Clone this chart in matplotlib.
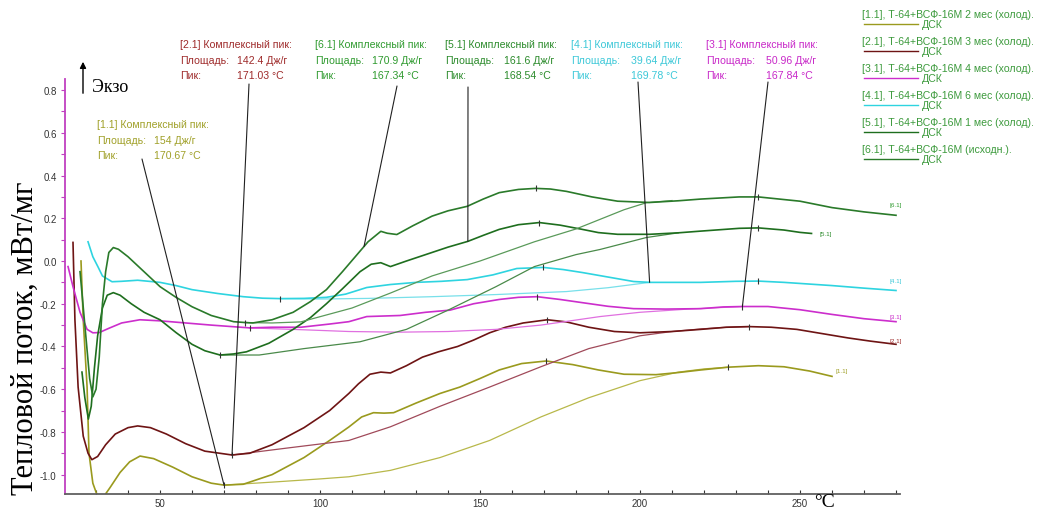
import matplotlib.pyplot as plt
from matplotlib.ticker import MultipleLocator

W, H = 1051, 510

# DSC curves: temperature (degC) and heat flow (mW/mg)
t11 = [25.3, 26.0, 27.2, 27.8, 29.0, 30.2, 30.8, 31.8, 33.0, 34.4, 37.5, 40.5, 43.75, 48, 54, 60, 66, 70, 76,
       85, 95, 103, 109, 113, 116.7, 120, 123, 130, 137.5, 143.7, 150, 156, 163, 170.67, 179, 187, 195, 205,
       212, 219, 227.5, 237, 245, 253, 260]
y11 = [0.0, -0.275, -0.59, -0.9, -1.04, -1.09, -1.13, -1.13, -1.09, -1.06, -0.99, -0.94, -0.913, -0.925, -0.965,
       -1.01, -1.04, -1.049, -1.045, -1.0, -0.92, -0.84, -0.777, -0.73, -0.71, -0.712, -0.71, -0.665, -0.62,
       -0.59, -0.55, -0.51, -0.48, -0.468, -0.485, -0.51, -0.53, -0.532, -0.522, -0.51, -0.497, -0.49, -0.495,
       -0.515, -0.54]
bt11 = [70, 85, 100, 109, 122, 137.5, 153, 169, 184, 200, 212, 220, 227.5]
by11 = [-1.049, -1.035, -1.02, -1.01, -0.98, -0.92, -0.84, -0.73, -0.64, -0.56, -0.52, -0.505, -0.497]

t21 = [22.8, 23.4, 24.4, 26, 27.5, 28.7, 30.5, 33, 36, 40, 43, 47, 52, 58, 64, 72.5, 78, 85, 95, 103, 109, 112,
       115.6, 119, 122, 127, 132, 137, 143, 148, 153, 158, 163.5, 171.03, 177, 184, 192, 200, 210, 219, 227,
       234, 241, 249, 257, 265, 272, 280]
y21 = [0.087, -0.275, -0.59, -0.82, -0.9, -0.93, -0.915, -0.86, -0.81, -0.78, -0.772, -0.78, -0.81, -0.855,
       -0.89, -0.908, -0.9, -0.86, -0.78, -0.7, -0.62, -0.575, -0.53, -0.52, -0.524, -0.49, -0.45, -0.425,
       -0.40, -0.37, -0.336, -0.31, -0.29, -0.275, -0.285, -0.31, -0.33, -0.336, -0.33, -0.32, -0.31, -0.307,
       -0.31, -0.32, -0.34, -0.36, -0.375, -0.39]
bt21 = [72.5, 90, 109, 122, 137.5, 153, 169, 184, 200, 210, 219, 227, 234]
by21 = [-0.908, -0.875, -0.84, -0.776, -0.68, -0.59, -0.495, -0.41, -0.35, -0.33, -0.318, -0.31, -0.307]

t31 = [21.25, 22.8, 25, 27.2, 29, 31, 34, 38, 43.7, 50, 58, 66, 78, 85, 94, 103, 109, 114.6, 125, 133, 140.6,
       148, 156, 162, 167.84, 175, 182, 190, 198, 208, 219, 226, 232, 240, 250, 260, 270, 280]
y31 = [-0.026, -0.12, -0.24, -0.32, -0.336, -0.335, -0.315, -0.29, -0.275, -0.28, -0.29, -0.3, -0.313, -0.31,
       -0.31, -0.295, -0.284, -0.26, -0.255, -0.24, -0.23, -0.2, -0.18, -0.17, -0.167, -0.18, -0.195, -0.212,
       -0.223, -0.225, -0.223, -0.215, -0.213, -0.213, -0.228, -0.25, -0.27, -0.284]
bt31 = [78, 95, 109, 125, 140, 155, 169, 187.5, 200, 215, 232]
by31 = [-0.313, -0.322, -0.33, -0.333, -0.33, -0.32, -0.30, -0.26, -0.24, -0.225, -0.213]

t41 = [27.5, 29, 30.7, 32, 35, 38, 43, 50, 55, 60, 68, 76, 82, 87.5, 95, 102, 108, 114.6, 122, 130, 138, 146,
       154, 161.5, 169.78, 176, 182, 190, 198, 203, 212, 219, 230, 237, 245, 253, 260, 270, 280]
y41 = [0.09, 0.02, -0.03, -0.07, -0.097, -0.095, -0.09, -0.1, -0.115, -0.134, -0.152, -0.167, -0.174, -0.176,
       -0.175, -0.17, -0.155, -0.124, -0.11, -0.10, -0.095, -0.087, -0.065, -0.035, -0.03, -0.04, -0.054,
       -0.075, -0.096, -0.10, -0.10, -0.10, -0.095, -0.094, -0.1, -0.108, -0.115, -0.127, -0.138]
bt41 = [87.5, 100, 115, 135, 155, 177, 190, 203]
by41 = [-0.176, -0.178, -0.175, -0.167, -0.157, -0.143, -0.125, -0.10]

t51 = [25.6, 26.5, 27.6, 28.5, 29.5, 30.5, 32, 33.5, 35.4, 37.5, 41, 45, 50, 55, 60, 64, 68.75, 73, 77, 84,
       91.6, 97, 102, 107, 112.5, 116, 119, 122, 127, 135, 140, 146.2, 151, 156, 162, 168.54, 175, 182, 187,
       193, 203, 212, 219, 231, 237, 245, 250, 253.6]
y51 = [-0.52, -0.64, -0.74, -0.68, -0.5, -0.35, -0.22, -0.16, -0.148, -0.16, -0.2, -0.24, -0.275, -0.335,
       -0.39, -0.42, -0.44, -0.435, -0.425, -0.385, -0.32, -0.265, -0.2, -0.13, -0.05, -0.015, -0.008, -0.026,
       0.0, 0.04, 0.065, 0.092, 0.12, 0.148, 0.17, 0.18, 0.168, 0.148, 0.133, 0.125, 0.125, 0.132, 0.14, 0.153,
       0.155, 0.145, 0.134, 0.129]
bt51 = [68.75, 81, 95, 112.5, 127, 140, 155, 167, 180, 187.5, 202, 212]
by51 = [-0.44, -0.44, -0.41, -0.378, -0.32, -0.23, -0.12, -0.026, 0.03, 0.054, 0.11, 0.132]

t61 = [25.0, 26.5, 28, 29, 30, 31, 32, 33, 34, 35.4, 37, 40, 45, 50, 55, 60, 66, 73, 76.6, 79, 85, 91.6, 97,
       102, 107, 113.75, 115, 119, 121, 124, 129, 135, 140, 146, 151, 156, 162, 167.34, 172, 177, 185, 193,
       203, 212, 219, 231, 237, 250, 260, 270, 280]
y61 = [-0.05, -0.3, -0.55, -0.636, -0.6, -0.45, -0.2, -0.05, 0.04, 0.063, 0.055, 0.02, -0.05, -0.12, -0.17,
       -0.214, -0.255, -0.284, -0.288, -0.29, -0.275, -0.24, -0.19, -0.134, -0.05, 0.068, 0.09, 0.139, 0.13,
       0.124, 0.165, 0.21, 0.235, 0.256, 0.29, 0.32, 0.335, 0.34, 0.337, 0.326, 0.3, 0.28, 0.274, 0.282, 0.29,
       0.30, 0.30, 0.28, 0.25, 0.23, 0.214]
bt61 = [76.6, 85, 94, 110, 122, 135, 150, 167, 180, 187.5, 195, 202, 210]
by61 = [-0.288, -0.29, -0.285, -0.22, -0.15, -0.07, 0.0, 0.09, 0.15, 0.195, 0.24, 0.273, 0.283]

# peak / integration limit markers
tick11 = ([70, 170.67, 227.5], [-1.049, -0.468, -0.497])
tick21 = ([72.5, 171.03, 234], [-0.908, -0.275, -0.307])
tick31 = ([78, 167.84, 232], [-0.313, -0.167, -0.213])
tick41 = ([87.5, 169.78, 237], [-0.176, -0.03, -0.094])
tick51 = ([68.75, 168.54, 237], [-0.44, 0.18, 0.155])
tick61 = ([76.6, 167.34, 237], [-0.288, 0.34, 0.30])

names = ["[1.1]", "[2.1]", "[3.1]", "[4.1]", "[5.1]", "[6.1]"]
legend_text = ["[1.1], Т-64+ВСФ-16М 2 мес (холод).", "[2.1], Т-64+ВСФ-16М 3 мес (холод).",
               "[3.1], Т-64+ВСФ-16М 4 мес (холод).", "[4.1], Т-64+ВСФ-16М 6 мес (холод).",
               "[5.1], Т-64+ВСФ-16М 1 мес (холод).", "[6.1], Т-64+ВСФ-16М (исходн.)."]
areas = ["154 Дж/г", "142.4 Дж/г", "50.96 Дж/г", "39.64 Дж/г", "161.6 Дж/г", "170.9 Дж/г"]
peaks = ["170.67 °C", "171.03 °C", "167.84 °C", "169.78 °C", "168.54 °C", "167.34 °C"]

main_col = ['#9a9a1e', '#6e1414', '#cc2ecc', '#2ed4e0', '#1e6e1e', '#2a7a2a']
base_col = ['#b8b84a', '#a04a5a', '#e070e0', '#78e0ea', '#4a8a4a', '#5a9a5a']
text_col = ['#a0a028', '#9e2a2a', '#c828c8', '#3cc8d8', '#2a8a2a', '#2e9a2e']

curves = [(t11, y11, bt11, by11, tick11), (t21, y21, bt21, by21, tick21), (t31, y31, bt31, by31, tick31),
          (t41, y41, bt41, by41, tick41), (t51, y51, bt51, by51, tick51), (t61, y61, bt61, by61, tick61)]

# annotation blocks: text position (px), column of values (px), leader end point (data)
blocks = [(97, 125, 154, (70, -1.049), (142, 160)),
          (180, 45, 237, (72.5, -0.908), (249, 85)),
          (706, 45, 766, (232, -0.213), (768, 83)),
          (571, 45, 631, (203, -0.10), (638, 83)),
          (445, 45, 504, (146.2, 0.092), (468, 88)),
          (315, 45, 372, (113.75, 0.068), (397, 87))]
end_label = [(836, 372), (890, 342), (890, 318), (890, 281), (820, 235), (890, 205)]

plt.rcParams['font.family'] = ['Liberation Sans', 'DejaVu Sans']
fig = plt.figure(figsize=(W / 100, H / 100), dpi=100)
ax = fig.add_axes([65 / W, 15 / H, 835 / W, 415 / H])

for i, (t, y, bt, by, tk) in enumerate(curves):
    ax.plot(bt, by, color=base_col[i], lw=0.9)
    ax.plot(t, y, color=main_col[i], lw=1.2)
    ax.plot(tk[0], tk[1], linestyle='None', marker='|', ms=5, mew=0.8, color='#333333')

ax.set_xlim(20.3, 281.25)
ax.set_ylim(-1.0906, 0.852)
ax.xaxis.set_major_locator(MultipleLocator(50))
ax.xaxis.set_minor_locator(MultipleLocator(10))
ax.yaxis.set_major_locator(MultipleLocator(0.2))
ax.yaxis.set_minor_locator(MultipleLocator(0.1))
ax.yaxis.set_major_formatter(lambda v, p: "%.1f" % v)
ax.spines['top'].set_visible(False)
ax.spines['right'].set_visible(False)
ax.spines['left'].set_color('#c040c0')
ax.spines['left'].set_linewidth(1.3)
ax.spines['bottom'].set_color('#606060')
ax.spines['bottom'].set_linewidth(1.3)
ax.tick_params(axis='y', which='both', direction='out', length=3, width=0.8, color='#c040c0',
               labelsize=7, labelcolor='#333333', pad=3)
ax.tick_params(axis='x', which='both', direction='in', length=3, width=0.8, color='#333333',
               labelsize=7, labelcolor='#333333', pad=3)

def px(x, y):
    return x / W, 1 - y / H

for i in range(6):
    x0, y0, xv, pt, top = blocks[i]
    c = text_col[i]
    fig.text(*px(x0, y0), names[i] + " Комплексный пик:", color=c, fontsize=7.6, va='center')
    fig.text(*px(x0, y0 + 16), "Площадь:", color=c, fontsize=7.6, va='center')
    fig.text(*px(xv, y0 + 16), areas[i], color=c, fontsize=7.6, va='center')
    fig.text(*px(x0, y0 + 31), "Пик:", color=c, fontsize=7.6, va='center')
    fig.text(*px(xv, y0 + 31), peaks[i], color=c, fontsize=7.6, va='center')
    ax.annotate('', xy=pt, xycoords='data', xytext=(top[0], H - top[1]), textcoords='figure pixels',
                arrowprops=dict(arrowstyle='-', color='#202020', lw=0.8, shrinkA=0, shrinkB=0),
                annotation_clip=False)
    ex, ey = end_label[i]
    fig.text(*px(ex, ey), names[i], color=c, fontsize=4.5, ha='left', va='center')

# legend on the right
for i in range(6):
    ly = 15 + 27 * i
    fig.text(*px(862, ly), legend_text[i], color='#3c9a3c', fontsize=7.6, va='center')
    fig.add_artist(plt.Line2D([864 / W, 918 / W], [1 - (ly + 10) / H] * 2, color=main_col[i], lw=1.0))
    fig.text(*px(922, ly + 10), "ДСК", color='#3c9a3c', fontsize=7.6, va='center')

fig.text(*px(25, 338), "Тепловой поток, мВт/мг", family=['Liberation Serif'], fontsize=22,
         rotation=90, ha='center', va='center')
fig.text(*px(92, 87), "Экзо", family=['Liberation Serif'], fontsize=13, va='center')
ax.annotate('', xy=(83, H - 60), xycoords='figure pixels', xytext=(83, H - 97), textcoords='figure pixels',
            arrowprops=dict(arrowstyle='-|>', color='black', lw=1.0, mutation_scale=9))
fig.text(*px(814, 503), "°C", family=['Liberation Serif'], fontsize=14, va='center')

fig.savefig("out.png", dpi=100)
